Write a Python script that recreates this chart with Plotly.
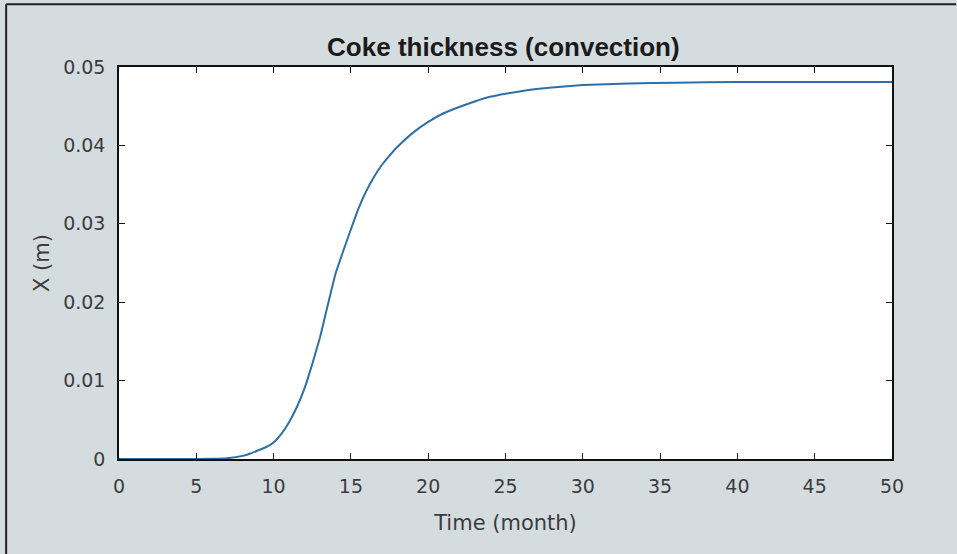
import plotly.graph_objects as go

time_month = [0, 2, 4, 6, 7, 8, 8.5, 9, 9.5, 10, 10.5, 11, 11.5, 12, 12.5, 13, 13.5, 14, 14.5, 15,
              15.5, 16, 16.5, 17, 17.5, 18, 19, 20, 21, 22, 23, 24, 25, 26, 27, 28, 30, 33, 36, 40, 45, 50]
thickness_m = [0, 0, 0, 0.00002, 0.0001, 0.0004, 0.0007, 0.0011, 0.0015, 0.0021, 0.0032, 0.0047, 0.0066,
               0.0090, 0.0121, 0.0155, 0.0196, 0.0236, 0.0265, 0.0293, 0.0320, 0.0342, 0.0360, 0.0375,
               0.0387, 0.0398, 0.0416, 0.0430, 0.0441, 0.0449, 0.0456, 0.0462, 0.0466, 0.0469, 0.0472,
               0.0474, 0.0477, 0.0479, 0.0480, 0.0481, 0.0481, 0.0481]
x_ticks = list(range(0, 51, 5))
y_ticks = [0, 0.01, 0.02, 0.03, 0.04, 0.05]
y_tick_text = ["0", "0.01", "0.02", "0.03", "0.04", "0.05"]

fig = go.Figure()
fig.add_trace(go.Scatter(x=time_month, y=thickness_m, mode="lines",
                         line=dict(color="#2f6fa7", width=2, shape="spline", smoothing=0.3),
                         showlegend=False))

axis_common = dict(showgrid=False, zeroline=False, showline=True, linecolor="#111",
                   linewidth=1.5, mirror="ticks", ticks="inside", ticklen=6, tickwidth=1.2,
                   tickcolor="#111", tickfont=dict(family="DejaVu Sans", size=19, color="#3c3c3c"))

fig.update_layout(
    width=957, height=554,
    margin=dict(l=119, r=65, t=67, b=95),
    paper_bgcolor="#d5dcdf", plot_bgcolor="#ffffff",
    title=dict(text="<b>Coke thickness (convection)</b>", x=0.526, xanchor="center",
               y=0.915, yanchor="middle",
               font=dict(family="Liberation Sans, Arial", size=26, color="#1a1a1a")),
    xaxis=dict(range=[0, 50], tickvals=x_ticks, ticklabelstandoff=9,
               title=dict(text="Time (month)", standoff=20,
                          font=dict(family="DejaVu Sans", size=21, color="#3c3c3c")),
               **axis_common),
    yaxis=dict(range=[0, 0.05], tickvals=y_ticks, ticktext=y_tick_text, ticklabelstandoff=8,
               title=dict(text="X (m)", standoff=8,
                          font=dict(family="DejaVu Sans", size=21, color="#3c3c3c")),
               **axis_common),
    shapes=[
        dict(type="line", xref="paper", yref="paper", x0=-0.146, x1=-0.146, y0=-0.25, y1=1.16,
             line=dict(color="#222", width=2)),
        dict(type="line", xref="paper", yref="paper", x0=-0.146, x1=1.083, y0=1.16, y1=1.16,
             line=dict(color="#222", width=2)),
    ],
)

fig.write_html("out.html", config={"displayModeBar": False},
               post_script="document.body.style.margin='0';document.body.style.overflow='hidden';")
